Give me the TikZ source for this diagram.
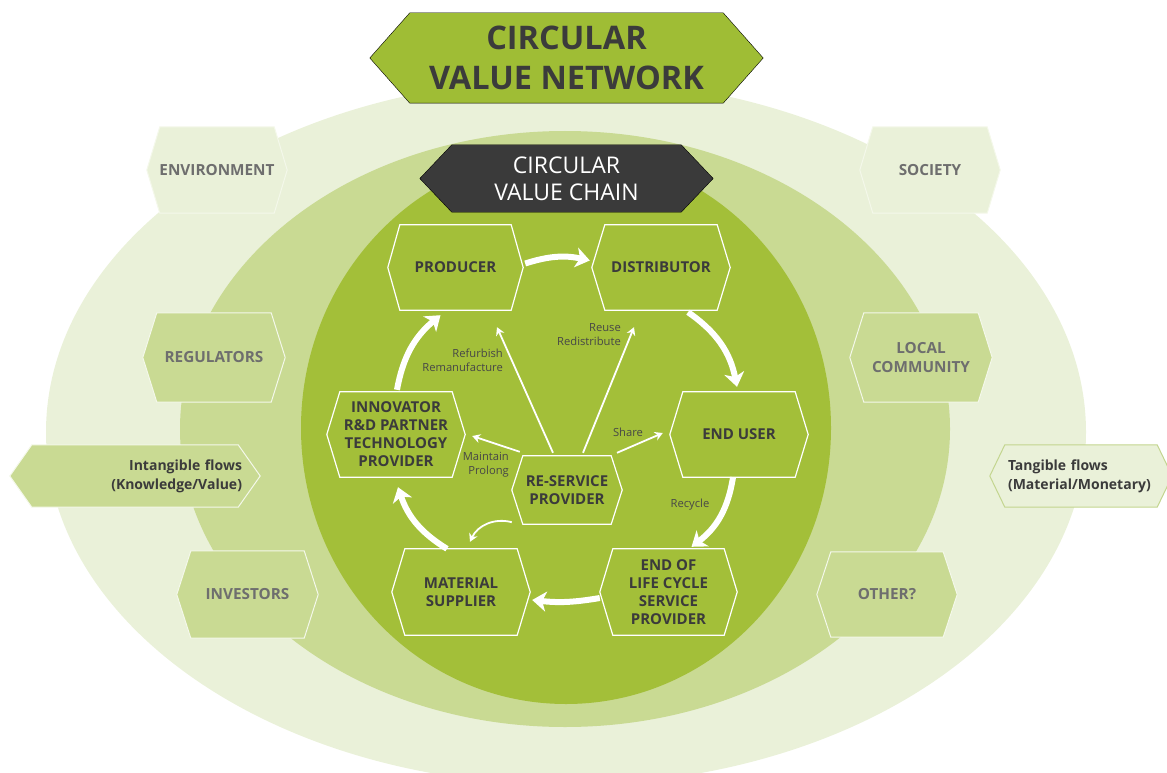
\documentclass[tikz,border=0pt]{standalone}
\usepackage{fontspec}
\setmainfont{Open Sans}
\usetikzlibrary{arrows.meta}
\definecolor{outerc}{HTML}{EAF1D9}
\definecolor{midc}{HTML}{C9DA93}
\definecolor{innerc}{HTML}{A3BF39}
\definecolor{titlec}{HTML}{9FBD35}
\definecolor{darkc}{HTML}{3A3A3A}
\definecolor{txtc}{HTML}{3B3B3B}
\definecolor{grayt}{HTML}{6E6E6E}
\definecolor{lblc}{HTML}{474747}
\definecolor{edgec}{HTML}{F4F8EA}
\definecolor{tangedge}{HTML}{C3D58F}
\pgfdeclarelayer{ell}
\pgfdeclarelayer{hexl}
\pgfsetlayers{ell,hexl,main}
\begin{document}
\begin{tikzpicture}[x=1pt,y=-1pt,
  nd/.style={inner sep=0pt, align=center, text=txtc,
    font=\fontsize{15}{18}\selectfont\bfseries},
  sk/.style={nd, text=grayt, font=\fontsize{15.3}{19}\selectfont\bfseries},
  lbl/.style={inner sep=0pt, text=lblc, font=\fontsize{11.2}{14}\selectfont},
  inhex/.style={draw=white, line width=1.2pt},
  outhex/.style={fill=outerc, draw=edgec, line width=1pt},
  midhex/.style={fill=midc, draw=edgec, line width=1pt},
  tanghex/.style={fill=outerc, draw=tangedge, line width=1pt},
  titlehex/.style={fill=titlec},
  chainhex/.style={fill=darkc},
  thk/.style={draw=white, line width=6pt, -{Stealth[length=14pt,width=20pt,inset=4pt]}},
  thn/.style={draw=white, line width=1.8pt, -{Stealth[length=8pt,width=9pt]}}
]
\useasboundingbox (0,0) rectangle (1167,773);

% ---- nodes ----
\node[nd, minimum width=393pt, minimum height=90pt,
  font=\fontsize{32.5}{40}\selectfont\bfseries] (title) at (566.5,58) {CIRCULAR\\VALUE NETWORK};
\node[nd, minimum width=293pt, minimum height=67pt, text=white,
  font=\fontsize{23}{27}\selectfont] (chain) at (566.5,178.5) {CIRCULAR\\VALUE CHAIN};

\node[sk, minimum width=140pt, minimum height=86pt] (env) at (217,170) {ENVIRONMENT};
\node[sk, minimum width=142pt, minimum height=89pt] (reg) at (214,357.5) {REGULATORS};
\node[sk, minimum width=141pt, minimum height=87pt] (inv) at (247.5,594.5) {INVESTORS};
\node[sk, minimum width=140pt, minimum height=86pt] (soc) at (930,170) {SOCIETY};
\node[sk, minimum width=142pt, minimum height=89pt] (loc) at (921,357.5) {LOCAL\\COMMUNITY};
\node[sk, minimum width=140pt, minimum height=85pt] (oth) at (887,594.5) {OTHER?};

\node[nd, minimum width=250pt, minimum height=62pt, text width=214pt, align=right,
  font=\fontsize{14}{19}\selectfont\bfseries] (intg) at (135,476) {Intangible flows\\(Knowledge/Value)};
\node[nd, minimum width=182pt, minimum height=62pt, text width=146pt, align=left,
  font=\fontsize{14}{19}\selectfont\bfseries] (tang) at (1081,476) {Tangible flows\\(Material/Monetary)};

\node[nd, minimum width=135pt, minimum height=85pt] (prod) at (455.5,267.5) {PRODUCER};
\node[nd, minimum width=138pt, minimum height=85pt] (dist) at (661,267.5) {DISTRIBUTOR};
\node[nd, minimum width=138pt, minimum height=85pt] (inno) at (396,434.5) {INNOVATOR\\R\&D PARTNER\\TECHNOLOGY\\PROVIDER};
\node[nd, minimum width=138pt, minimum height=85pt] (endu) at (739,434.5) {END USER};
\node[nd, minimum width=110pt, minimum height=68pt] (rese) at (567,490) {RE-SERVICE\\PROVIDER};
\node[nd, minimum width=138pt, minimum height=86pt] (mats) at (461,592) {MATERIAL\\SUPPLIER};
\node[nd, minimum width=137pt, minimum height=86pt] (eol) at (668.5,592) {END OF\\LIFE CYCLE\\SERVICE\\PROVIDER};

% ---- background ellipses ----
\begin{pgfonlayer}{ell}
  \fill[outerc] (566,432) ellipse [x radius=520pt, y radius=353pt];
  \fill[midc] (565,429) ellipse [x radius=385pt, y radius=298pt];
  \fill[innerc] (566,428) ellipse [x radius=265pt, y radius=276pt];
\end{pgfonlayer}

% ---- hexagon outlines ----
\begin{pgfonlayer}{hexl}
  \foreach \n/\i/\s in {title/40/titlehex, chain/32/chainhex,
      env/13/outhex, soc/13/outhex, reg/14/midhex, loc/14/midhex,
      inv/14/midhex, oth/14/midhex, intg/22/midhex, tang/15/tanghex,
      prod/12/inhex, dist/13/inhex, inno/13/inhex, endu/13/inhex,
      rese/11/inhex, mats/13/inhex, eol/13/inhex}{
    \draw[\s] (\n.west) -- ([xshift=\i pt]\n.north west) -- ([xshift=-\i pt]\n.north east)
      -- (\n.east) -- ([xshift=-\i pt]\n.south east) -- ([xshift=\i pt]\n.south west) -- cycle;
  }
\end{pgfonlayer}

% ---- main cycle ----
\draw[thk] ([xshift=2pt,yshift=4pt]prod.east) to[bend left=15] ([xshift=-2pt,yshift=7pt]dist.west);
\draw[thk] ([xshift=27pt,yshift=-2pt]dist.south) to[bend left=22] ([xshift=-2pt,yshift=5pt]endu.north);
\draw[thk] ([xshift=-6pt]endu.south) to[bend left=22] ([xshift=23pt,yshift=2pt]eol.north);
\draw[thk] ([yshift=-6pt]eol.west) to[bend left=8] ([xshift=2pt,yshift=-8pt]mats.east);
\draw[thk] ([xshift=-14pt]mats.north) to[bend left=20] ([xshift=2pt,yshift=-10pt]inno.south);
\draw[thk] ([xshift=1pt,yshift=2pt]inno.north) to[bend left=20] ([xshift=-15pt,yshift=-5pt]prod.south);

% ---- re-service arrows ----
\draw[thn] ([xshift=8pt,yshift=4pt]rese.north west) -- ([xshift=7pt,yshift=-1.5pt]inno.east);
\draw[thn] ([xshift=-14pt,yshift=3pt]rese.north) -- ([xshift=41.5pt,yshift=-17pt]prod.south);
\draw[thn] ([xshift=16pt,yshift=3pt]rese.north) -- ([xshift=-27pt,yshift=-17pt]dist.south);
\draw[thn] ([xshift=50pt,yshift=3pt]rese.north) -- ([xshift=-7pt,yshift=1.5pt]endu.west);
\draw[thn] ([yshift=2pt]rese.south west) to[bend right=40] ([xshift=9pt,yshift=7pt]mats.north);

% ---- arrow labels ----
\node[lbl, anchor=east, align=right] (lrefurb) at (503,360) {Refurbish\\Remanufacture};
\node[lbl, anchor=east, align=right] (lreuse) at (621,335) {Reuse\\Redistribute};
\node[lbl] (lshare) at (628,432) {Share};
\node[lbl, anchor=east, align=right] (lmaint) at (509,465) {Maintain\\Prolong};
\node[lbl] (lrecyc) at (690,505) {Recycle};
\end{tikzpicture}
\end{document}
